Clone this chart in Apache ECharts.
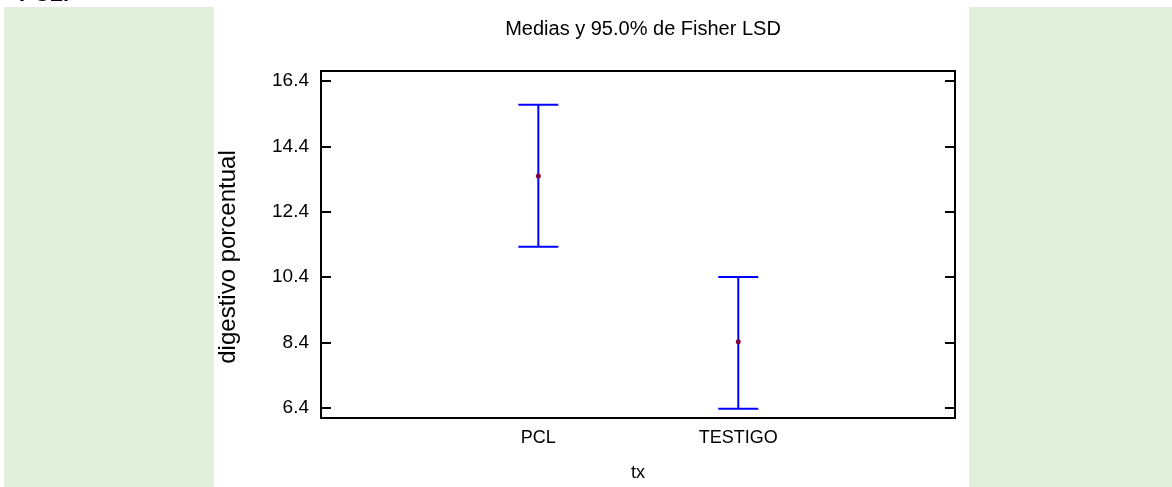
<!DOCTYPE html>
<html>
<head>
<meta charset="utf-8">
<script src="https://cdn.jsdelivr.net/npm/echarts@6/dist/echarts.min.js"></script>
<style>
html,body{margin:0;padding:0;background:#fff;overflow:hidden;}
#chart{width:1172px;height:487px;}
</style>
</head>
<body>
<div id="chart"></div>
<script>
var categories = ['PCL', 'TESTIGO'];
var catPositions = [1, 2];
var means = [13.49, 8.43];
var lowerLimits = [11.33, 6.38];
var upperLimits = [15.67, 10.41];
var yTicks = [6.4, 8.4, 10.4, 12.4, 14.4, 16.4];
var yTickLabels = ['6.4', '8.4', '10.4', '12.4', '14.4', '16.4'];

var FONT = '"Liberation Sans", Arial, sans-serif';
var chart = echarts.init(document.getElementById('chart'), null, {renderer: 'canvas'});

var seriesData = categories.map(function (c, i) {
  return [catPositions[i], means[i], lowerLimits[i], upperLimits[i]];
});

var option = {
  animation: false,
  backgroundColor: '#ffffff',
  title: {
    text: 'Medias y 95.0% de Fisher LSD',
    left: 638, top: 14, textAlign: 'center',
    textStyle: {fontFamily: FONT, fontSize: 20, fontWeight: 'normal', color: '#000'}
  },
  graphic: [
    {type: 'rect', left: 4, top: 7, z: -10, shape: {width: 210, height: 480}, style: {fill: '#E2EFDA'}},
    {type: 'rect', left: 969, top: 7, z: -10, shape: {width: 203, height: 480}, style: {fill: '#E2EFDA'}},
    {type: 'text', left: 19, top: -16, style: {text: 'PCL.', font: 'bold 22px ' + FONT, fill: '#000'}},
    {type: 'text', x: 228, y: 257, rotation: Math.PI / 2,
     style: {text: 'digestivo porcentual', font: '24px ' + FONT, fill: '#000', align: 'center', verticalAlign: 'middle'}}
  ],
  grid: {
    left: 321, right: 217, top: 71, bottom: 64,
    show: true, borderColor: '#000', borderWidth: 2, backgroundColor: 'transparent'
  },
  xAxis: {
    type: 'value', min: -0.087, max: 3.084,
    name: 'tx', nameLocation: 'middle', nameGap: 46,
    nameTextStyle: {fontFamily: FONT, fontSize: 18, color: '#000'},
    axisLine: {show: false, onZero: false}, axisTick: {show: false}, splitLine: {show: false},
    axisLabel: {
      customValues: catPositions,
      margin: 11,
      fontFamily: FONT, fontSize: 18, color: '#000',
      formatter: function (v) {
        var i = catPositions.indexOf(Math.round(v));
        return i >= 0 ? categories[i] : '';
      }
    }
  },
  yAxis: [{
    type: 'value', min: 6.10, max: 16.70, position: 'left',
    axisLine: {show: false, onZero: false}, splitLine: {show: false},
    axisTick: {show: true, inside: true, length: 10, customValues: yTicks, lineStyle: {color: '#000', width: 2}},
    axisLabel: {
      customValues: yTicks, margin: 12,
      fontFamily: FONT, fontSize: 19, color: '#000',
      formatter: function (v) {
        for (var i = 0; i < yTicks.length; i++) { if (Math.abs(yTicks[i] - v) < 1e-6) return yTickLabels[i]; }
        return '';
      }
    }
  }, {
    type: 'value', min: 6.10, max: 16.70, position: 'right',
    axisLine: {show: false, onZero: false}, splitLine: {show: false},
    axisTick: {show: true, inside: true, length: 10, customValues: yTicks, lineStyle: {color: '#000', width: 2}},
    axisLabel: {show: false}
  }],
  series: [{
    type: 'custom',
    data: seriesData,
    encode: {x: 0, y: [1, 2, 3]},
    renderItem: function (params, api) {
      var x = api.value(0);
      var mid = api.coord([x, api.value(1)]);
      var lo = api.coord([x, api.value(2)]);
      var hi = api.coord([x, api.value(3)]);
      var hw = 20;
      var ls = {stroke: '#0000FF', lineWidth: 2};
      return {
        type: 'group',
        children: [
          {type: 'line', shape: {x1: hi[0], y1: hi[1], x2: lo[0], y2: lo[1]}, style: ls},
          {type: 'line', shape: {x1: hi[0] - hw, y1: hi[1], x2: hi[0] + hw, y2: hi[1]}, style: ls},
          {type: 'line', shape: {x1: lo[0] - hw, y1: lo[1], x2: lo[0] + hw, y2: lo[1]}, style: ls},
          {type: 'circle', shape: {cx: mid[0], cy: mid[1], r: 2.5}, style: {fill: '#800040'}}
        ]
      };
    }
  }]
};
chart.setOption(option);
</script>
</body>
</html>
